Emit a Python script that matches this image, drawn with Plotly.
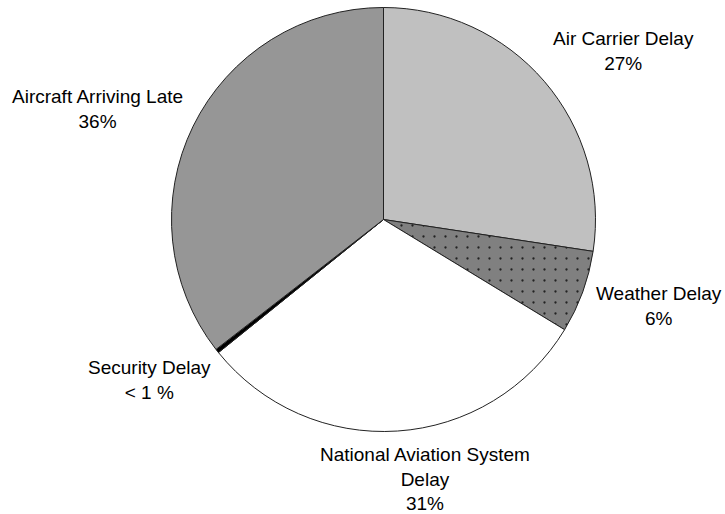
import plotly.graph_objects as go

categories = ["Air Carrier Delay", "Weather Delay", "National Aviation System Delay",
              "Security Delay", "Aircraft Arriving Late"]
values = [27.4, 6.3, 30.5, 0.3, 35.5]
label_text = ["Air Carrier Delay<br>27%", "Weather Delay<br>6%",
              "National Aviation System<br>Delay<br>31%", "Security Delay<br>< 1 %",
              "Aircraft Arriving Late<br>36%"]

colors = ["#c0c0c0", "#808080", "#ffffff", "#000000", "#969696"]
patterns = ["", ".", "", "", ""]
# label centre positions in pixels (x, y from top)
label_pos = [(623, 51.5), (659, 305.5), (425, 479), (149, 379.5), (97, 109)]

W, H = 725, 514
fig = go.Figure(go.Pie(
    labels=categories, values=values, sort=False, direction="clockwise", rotation=0,
    textinfo="none", hoverinfo="label+percent",
    marker=dict(colors=colors, line=dict(color="#222222", width=1),
                pattern=dict(shape=patterns, fgcolor="#222222", bgcolor=colors,
                             size=11, solidity=0.035, fillmode="replace")),
    domain=dict(x=[171.5 / W, 595.5 / W], y=[82.5 / H, 506.5 / H]),
    showlegend=False,
))

for txt, (px, py) in zip(label_text, label_pos):
    fig.add_annotation(text=txt, x=px / W, y=1 - py / H, xref="paper", yref="paper",
                       xanchor="center", yanchor="middle", showarrow=False, align="center",
                       font=dict(family="Liberation Sans, Arial, sans-serif", size=19, color="#000000"))

fig.update_layout(width=W, height=H, margin=dict(l=0, r=0, t=0, b=0),
                  paper_bgcolor="white", plot_bgcolor="white")
fig.write_html("out.html")
